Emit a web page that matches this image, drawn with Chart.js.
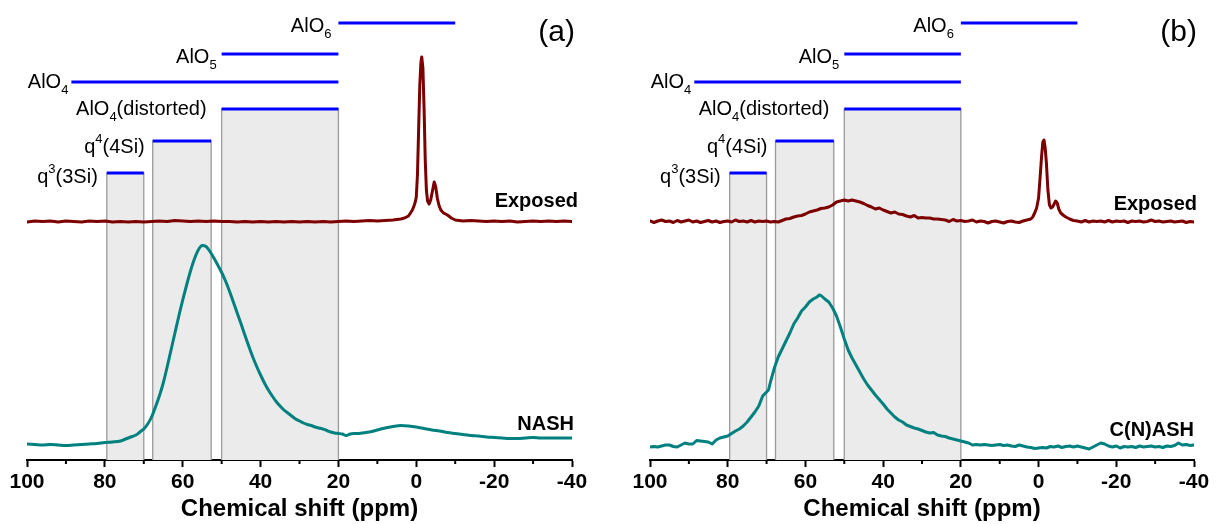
<!DOCTYPE html>
<html><head><meta charset="utf-8">
<script src="https://cdn.jsdelivr.net/npm/chart.js@4.4.1/dist/chart.umd.min.js"></script>
<style>
html,body{margin:0;padding:0;background:#fff;}
#wrap{position:relative;width:1217px;height:524px;overflow:hidden;background:#fff;}
canvas{position:absolute;top:0;}
</style></head><body>
<div id="wrap">
<canvas id="ca" width="608" height="524" style="left:0px"></canvas>
<canvas id="cb" width="609" height="524" style="left:608px"></canvas>
</div>
<script>
const FONT = '"Liberation Sans", Arial, Helvetica, sans-serif';

// ---------- axis ticks ----------
const xTickLabels = [100, 80, 60, 40, 20, 0, -20, -40];

// ---------- assignment regions (ppm) ----------
const regionNames  = ['q^3(3Si)', 'q^4(4Si)', 'AlO_4(distorted)', 'AlO_4', 'AlO_5', 'AlO_6'];
const regionFrom   = [79.5, 67.7, 50, 88.6, 50, 20];
const regionTo     = [70, 52.7, 20, 20, 20, -10];
const regionLevel  = [287, 319, 351, 378, 406, 437];
const regionShaded = [true, true, true, false, false, false];

// ---------- panel (a) : Exposed ----------
const exposedA_ppm = [100,98,96,94,92,90,88,86,84,82,80,78,76,74,72,70,68,66,64,62,60,58,56,54,52,50,48,46,44,42,40,38,36,34,32,30,28,26,24,22,20,18,16,14,12,10,8,6,4,3,2,1.5,1,0.5,0.2,0,-0.3,-0.6,-0.9,-1.2,-1.4,-1.7,-2.0,-2.3,-2.6,-2.9,-3.3,-3.7,-4.1,-4.6,-5.0,-5.4,-5.8,-6.3,-7,-8,-9,-10,-12,-14,-16,-18,-20,-22,-24,-26,-28,-30,-32,-34,-36,-38,-40];
const exposedA_int = [238,239,238.5,239,238,239,238.5,238,239,238.5,239,238,238.5,238,238.5,238,238.5,239,238.5,239.5,239,238.5,239,238.5,239,238.5,238.5,238,238.5,238,238.5,238,238.5,238,238.5,238,238.5,238,238.5,238,238.5,239,238.5,239,239.5,239,239.5,240,241,242,244,247,250,255,259,263,285,330,375,398,403,392,352,300,270,259,256,260,268,278,273,262,255,250,247,245,242,240,239,239.5,239,238.5,239,238.5,239,238,238.5,239,238.5,239,238.5,239,238.5];

// ---------- panel (a) : NASH ----------
const nashA_ppm = [100,98,96,94,92,90,88,86,84,82,80,78,76,75,74,73,72,71,70,69,68,67,66,65,64,63,62,61,60,59,58,57,56,55,54,53,52,51,50,49,48,47,46,45,44,43,42,41,40,39,38,37,36,35,34,33,32,31,30,29,28,27,26,25,24,23,22,21,20,19,18,17,16,15,14,12,10,8,6,4,2,0,-2,-4,-6,-8,-10,-12,-14,-16,-18,-20,-22,-24,-26,-28,-30,-32,-34,-36,-38,-40];
const nashA_int = [16,15.5,15,15.5,15,14.5,15,15.5,16,16.5,17.5,18,19,20.5,22,23.5,25,28,31,36,43,53,64,77,93,110,127,144,160,175,189,201,210,214.5,213.5,208.5,202,195,187.5,179,169,158,147,136,124.5,113.5,103,93.5,85,77,70,64,58.5,54,50,47,44,41,39,37,35.5,34.5,33,32,31,29.5,28,27,26.5,26,24.5,26,26.5,26.5,27,28,30,32,33.5,34.5,34,33,31.5,30,29,27.5,26.5,25.5,24.5,24,23,22.5,22,21.5,21.5,22,22.5,22,22,22,22,22];

// ---------- panel (b) : Exposed ----------
const exposedB_ppm = [100,99,98,97,96,95,94,93,92,91,90,89,88,87,86,85,84,83,82,81,80,79,78,77,76,75,74,73,72,71,70,69,68,67,66,65,64,63,62,61,60,59,58,57,56,55,54,53,52,51,50,49,48,47,46,45,44,43,42,41,40,39,38,37,36,35,34,33,32,31,30,29,28,27,26,25,24,23,22,21,20,19,18,17,16,15,14,13,12,11,10,9,8,7,6,5,4,3,2,1.5,1,0.5,0,-0.4,-0.8,-1.1,-1.4,-1.7,-2.0,-2.4,-2.8,-3.2,-3.6,-4.0,-4.4,-4.8,-5.2,-5.7,-6.3,-7,-8,-9,-10,-11,-12,-13,-14,-15,-16,-17,-18,-19,-20,-21,-22,-23,-24,-25,-26,-27,-28,-29,-30,-31,-32,-33,-34,-35,-36,-37,-38,-39,-40];
const exposedB_int = [239,237.5,239,240,238.5,239,237.5,239.5,238,239,240,238,239,237.5,238.5,239.5,238,239,237.5,238.5,239,238,240,238.5,239,238,239.5,238,239,238.5,239,238,238.5,238,239.5,241,241.5,243,244,244.5,246,248,249,250,251.5,252,253,255,258,259,260,259,260,259,258,256.5,254.5,253,251,252,250,248.5,247,248,246,245.5,244,243,244.5,242,242.5,242,242,241,241,240.5,240,238.5,240.5,239,239.5,238.5,239,240,238,239,238.5,237,238.5,239,238,237,238.5,239,238,237.5,239,240,241,243,247,252,262,283,305,318,320,312,298,270,255,252,253,256,259,257,251,247,245,243,241,239.5,239,238,239.5,238,239,238.5,239,238,239.5,238,239,238.5,239,237.5,239,238.5,239,238,238.5,240,238.5,239,238,238.5,239,238,238.5,239,237.5,238.5,238];

// ---------- panel (b) : C(N)ASH ----------
const cnashB_ppm = [100,99,98,97,96,95,94,93,92,91,90,89,88,87,86,85,84,83,82,81,80,79,78,77,76,75,74,73,72,71,70,69.5,69,68,67,66,65,64,63,62,61,60,59,58,57,56.5,56,55,54,53,52,51,50,49,48,47,46,45,44,43,42,41,40,39,38,37,36,35,34,33,32,31,30,29,28,27,26,25,24,23,22,21,20,19,18,17,16,15,14,13,12,11,10,9,8,7,6,5,4,3,2,1,0,-1,-2,-3,-4,-5,-6,-7,-8,-9,-10,-11,-12,-13,-14,-15,-16,-17,-18,-19,-20,-21,-22,-23,-24,-25,-26,-27,-28,-29,-30,-31,-32,-33,-34,-35,-36,-37,-38,-39,-40];
const cnashB_int = [13,13.5,13,14,15,15,13.5,13,15,17,16,16,19.5,19,18.5,18,16,20,22,23,24,26.5,29,31,34,38,43,48,54,64,68,70,78,92,103,111,119,127,136,142,149,153,158,161,163,165,164.5,161,158,152,144,133,121,110,102,95,88,81,75,70,65,60.5,56,51,47,43,40,38,35,33.5,32,31,29.5,28,27,27.5,25,24,23.5,22,21,20,19,18,17,15,15.5,15,15.5,15,14.5,15,15.5,14.5,15,14,13.5,15,14,13,12.5,11.5,12,12.5,12,13.5,13,14,12.5,13.5,14,13,14,13,12,11,13,15,17,16,14,13,14,12,13.5,13,13.5,12.5,14,13,13.5,14,13,13.5,12.5,14,13.5,14.5,17,15,15.5,14.5,15];

// ---------- helpers ----------
function pts(xs, ys) { return xs.map((v, i) => ({ x: v, y: ys[i] })); }

function parseRich(s) {
  const parts = [];
  let buf = '';
  for (let i = 0; i < s.length; i++) {
    const c = s[i];
    if (c === '_' || c === '^') {
      if (buf) { parts.push({ t: buf, k: 0 }); buf = ''; }
      parts.push({ t: s[i + 1], k: c === '_' ? 1 : -1 });
      i++;
    } else buf += c;
  }
  if (buf) parts.push({ t: buf, k: 0 });
  return parts;
}

function drawRich(ctx, s, rightX, baseY) {
  const parts = parseRich(s);
  const mainF = '20px ' + FONT, smallF = '13px ' + FONT;
  let w = 0;
  parts.forEach(p => { ctx.font = p.k ? smallF : mainF; p.w = ctx.measureText(p.t).width; w += p.w; });
  let x = rightX - w;
  ctx.textAlign = 'left';
  ctx.textBaseline = 'alphabetic';
  parts.forEach(p => {
    ctx.font = p.k ? smallF : mainF;
    const dy = p.k === 1 ? 6 : (p.k === -1 ? -10 : 0);
    ctx.fillText(p.t, x, baseY + dy);
    x += p.w;
  });
}

// label layout (pixels) for region labels, in regionNames order
const labelGap  = [9, 8, 15, 3, 5, 7];
const labelDrop = [10, 12, 6, 6, 9, 9];

function makePlugin(panel) {
  return {
    id: 'annot_' + panel.id,
    beforeDatasetsDraw(chart) {
      const { ctx, scales: { x, y } } = chart;
      ctx.save();
      const yb = y.getPixelForValue(0);
      regionNames.forEach((n, i) => {
        if (!regionShaded[i]) return;
        const x1 = x.getPixelForValue(regionFrom[i]);
        const x2 = x.getPixelForValue(regionTo[i]);
        const yt = y.getPixelForValue(regionLevel[i]);
        ctx.fillStyle = '#ebebeb';
        ctx.fillRect(x1, yt, x2 - x1, yb - yt);
        ctx.strokeStyle = '#9a9a9a';
        ctx.lineWidth = 1.3;
        ctx.beginPath();
        ctx.moveTo(x1, yb); ctx.lineTo(x1, yt); ctx.lineTo(x2, yt); ctx.lineTo(x2, yb);
        ctx.stroke();
      });
      regionNames.forEach((n, i) => {
        const x1 = x.getPixelForValue(regionFrom[i]);
        const x2 = x.getPixelForValue(regionTo[i]);
        const yt = y.getPixelForValue(regionLevel[i]);
        ctx.strokeStyle = '#0000ff';
        ctx.lineWidth = 3.2;
        ctx.beginPath(); ctx.moveTo(x1, yt); ctx.lineTo(x2, yt); ctx.stroke();
        ctx.fillStyle = '#000';
        drawRich(ctx, n, x1 - labelGap[i], yt + labelDrop[i]);
      });
      ctx.restore();
    },
    afterDraw(chart) {
      const { ctx, scales: { x, y }, chartArea } = chart;
      ctx.save();
      // minor ticks
      ctx.strokeStyle = '#000';
      ctx.lineWidth = 2;
      x.ticks.forEach(t => {
        if (t.value % 20 !== 0) {
          const px = x.getPixelForValue(t.value);
          ctx.beginPath(); ctx.moveTo(px, chartArea.bottom); ctx.lineTo(px, chartArea.bottom + 4); ctx.stroke();
        }
      });
      // panel letter
      ctx.fillStyle = '#000';
      ctx.textAlign = 'right';
      ctx.textBaseline = 'middle';
      ctx.font = '30px ' + FONT;
      ctx.fillText(panel.letter, x.getPixelForValue(-40) + 3, 33);
      // series labels
      ctx.font = 'bold 20px ' + FONT;
      panel.seriesLabels.forEach(s => {
        ctx.fillText(s.text, x.getPixelForValue(-40) + s.dx, y.getPixelForValue(s.level));
      });
      ctx.restore();
    }
  };
}

function makeChart(canvasId, panel, datasets, padLeft, padRight) {
  return new Chart(document.getElementById(canvasId), {
    type: 'line',
    data: { datasets },
    options: {
      responsive: false,
      animation: false,
      devicePixelRatio: 1,
      layout: { padding: { left: padLeft, right: padRight, top: 0, bottom: 0 } },
      plugins: { legend: { display: false }, tooltip: { enabled: false } },
      elements: { point: { radius: 0 }, line: { tension: 0, borderJoinStyle: 'round', borderCapStyle: 'round' } },
      scales: {
        x: {
          type: 'linear', reverse: true, min: -40, max: 100,
          afterFit(s) { s.height = 64; },
          ticks: {
            stepSize: 10, autoSkip: false, maxRotation: 0, padding: 3, color: '#000',
            font: { family: FONT, size: 21, weight: 'bold' },
            callback: v => xTickLabels.includes(v) ? String(v) : ''
          },
          grid: {
            display: true, drawOnChartArea: false, drawTicks: true, tickLength: 7, tickWidth: 2,
            tickColor: c => (c.tick && c.tick.value % 20 === 0) ? '#000' : 'rgba(0,0,0,0)'
          },
          border: { display: true, color: '#000', width: 2 },
          title: {
            display: true, text: 'Chemical shift (ppm)', color: '#000',
            font: { family: FONT, size: 24, weight: 'bold' }, padding: { top: 0, bottom: 0 }
          }
        },
        y: { type: 'linear', min: 0, max: 460, display: false }
      }
    },
    plugins: [makePlugin(panel)]
  });
}

makeChart('ca', {
  id: 'a', letter: '(a)',
  seriesLabels: [{ text: 'Exposed', dx: 6, level: 259 }, { text: 'NASH', dx: 2, level: 36 }]
}, [
  { label: 'Exposed', data: pts(exposedA_ppm, exposedA_int), borderColor: '#7d0000', borderWidth: 3 },
  { label: 'NASH', data: pts(nashA_ppm, nashA_int), borderColor: '#00807f', borderWidth: 3, cubicInterpolationMode: 'monotone' }
], 27, 36);

makeChart('cb', {
  id: 'b', letter: '(b)',
  seriesLabels: [{ text: 'Exposed', dx: 3, level: 256 }, { text: 'C(N)ASH', dx: 0, level: 30 }]
}, [
  { label: 'Exposed', data: pts(exposedB_ppm, exposedB_int), borderColor: '#7d0000', borderWidth: 3 },
  { label: 'C(N)ASH', data: pts(cnashB_ppm, cnashB_int), borderColor: '#00807f', borderWidth: 3 }
], 42, 23);
</script>
</body></html>
